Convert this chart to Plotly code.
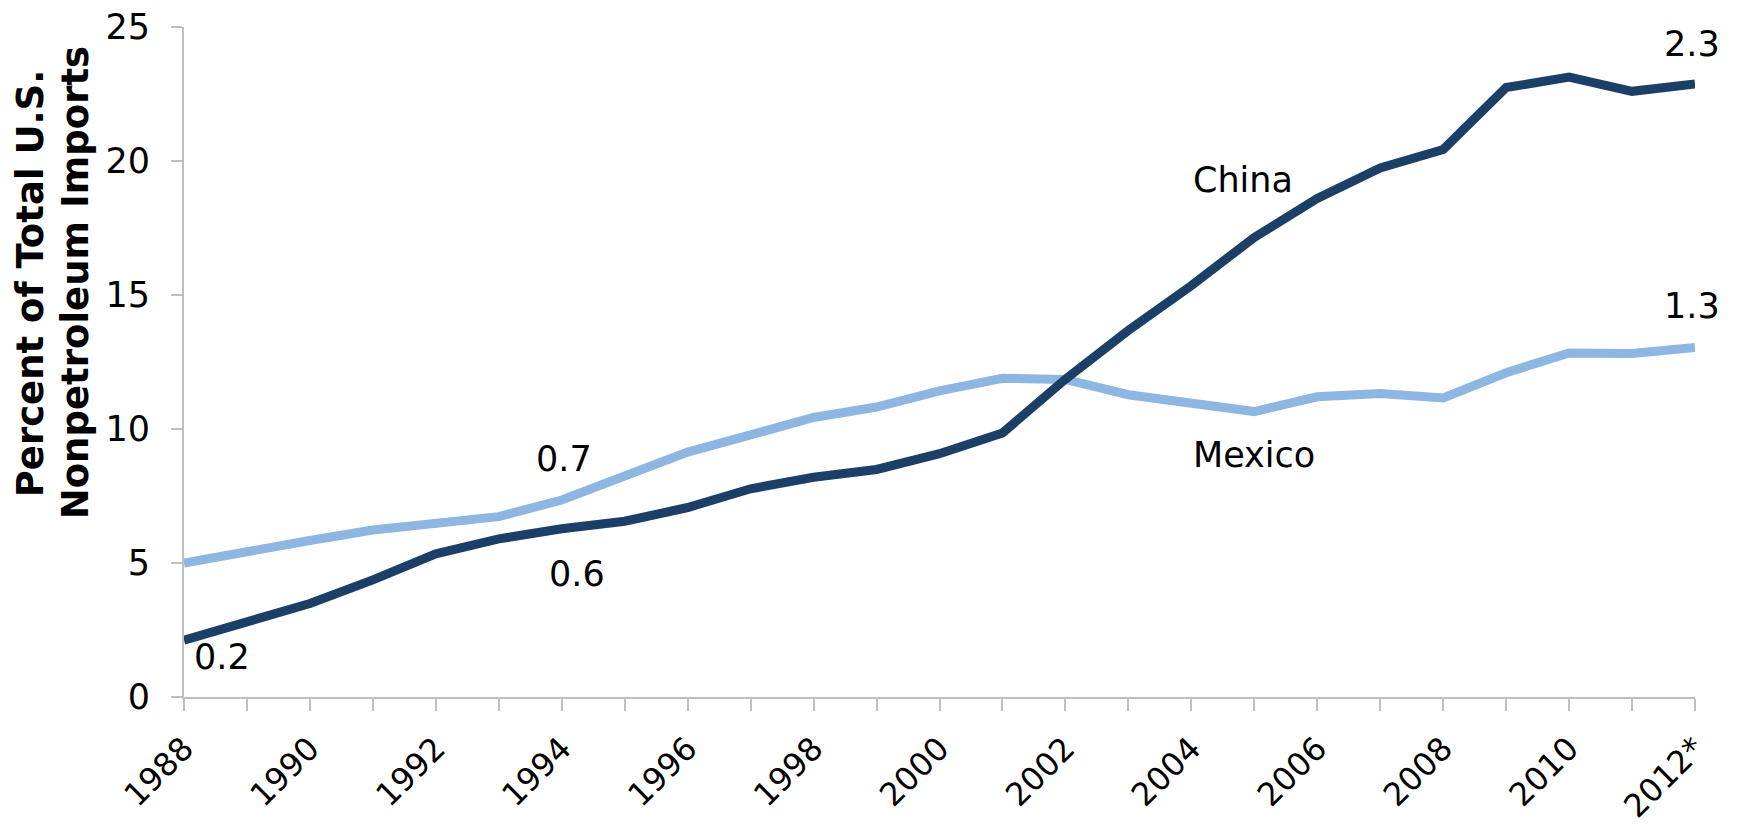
import plotly.graph_objects as go

years = list(range(1988, 2013))
china = [2.12, 2.83, 3.49, 4.37, 5.34, 5.90, 6.28, 6.56, 7.07, 7.77, 8.20, 8.49, 9.08, 9.85,
         11.86, 13.68, 15.35, 17.15, 18.60, 19.74, 20.43, 22.74, 23.13, 22.60, 22.87]
mexico = [5.00, 5.38, 5.84, 6.23, 6.46, 6.73, 7.35, 8.24, 9.14, 9.78, 10.43, 10.82, 11.42, 11.89,
          11.85, 11.28, 10.97, 10.65, 11.20, 11.32, 11.16, 12.10, 12.84, 12.82, 13.04]
tick_labels = ["1988", "", "1990", "", "1992", "", "1994", "", "1996", "", "1998", "", "2000", "",
               "2002", "", "2004", "", "2006", "", "2008", "", "2010", "", "2012*"]
y_ticks = [0, 5, 10, 15, 20, 25]

CHINA_COLOR = "#1B3F66"
MEXICO_COLOR = "#8DB6E2"
AXIS_COLOR = "#BFBFBF"
FONT = "DejaVu Sans"

fig = go.Figure()
fig.add_trace(go.Scatter(x=years, y=mexico, mode="lines", name="Mexico",
                         line=dict(color=MEXICO_COLOR, width=9)))
fig.add_trace(go.Scatter(x=years, y=china, mode="lines", name="China",
                         line=dict(color=CHINA_COLOR, width=9)))

ann_font = dict(family=FONT, size=35, color="#000000")
labels = [
    ("0.2", 1988.6, 1.5),
    ("0.6", 1994.24, 4.59),
    ("0.7", 1994.04, 8.87),
    ("China", 2004.82, 19.28),
    ("Mexico", 2005.0, 9.02),
    ("2.3", 2011.95, 24.35),
    ("1.3", 2011.95, 14.6),
]
for text, xv, yv in labels:
    fig.add_annotation(text=text, x=xv, y=yv, xref="x", yref="y", showarrow=False,
                       font=ann_font, xanchor="center", yanchor="middle")

title_font = dict(family=FONT, size=37, color="#000000")
fig.add_annotation(text="<b>Percent of Total U.S.</b>", xref="paper", yref="paper",
                   x=0, y=0.6175, xshift=-154, textangle=-90, showarrow=False,
                   font=title_font, xanchor="center", yanchor="middle")
fig.add_annotation(text="<b>Nonpetroleum Imports</b>", xref="paper", yref="paper",
                   x=0, y=0.6175, xshift=-109, textangle=-90, showarrow=False,
                   font=title_font, xanchor="center", yanchor="middle")

fig.update_layout(
    width=1741, height=832,
    margin=dict(l=184, r=46, t=27, b=135),
    plot_bgcolor="white", paper_bgcolor="white",
    showlegend=False,
    xaxis=dict(range=[1988, 2012], tickvals=years, ticktext=tick_labels, automargin=False,
               tickangle=-45, ticks="outside", ticklen=12, tickcolor=AXIS_COLOR, tickwidth=1.5,
               showline=True, linecolor=AXIS_COLOR, linewidth=2, showgrid=False, zeroline=False,
               ticklabelstandoff=6,
               tickfont=dict(family=FONT, size=32, color="#000000")),
    yaxis=dict(range=[0, 25], tickvals=y_ticks, ticks="outside", ticklen=11, automargin=False,
               tickcolor=AXIS_COLOR, tickwidth=1.5, showline=True, linecolor=AXIS_COLOR,
               linewidth=2, showgrid=False, zeroline=False, ticklabelstandoff=14,
               tickfont=dict(family=FONT, size=35, color="#000000")),
)

fig.write_html("out.html")
